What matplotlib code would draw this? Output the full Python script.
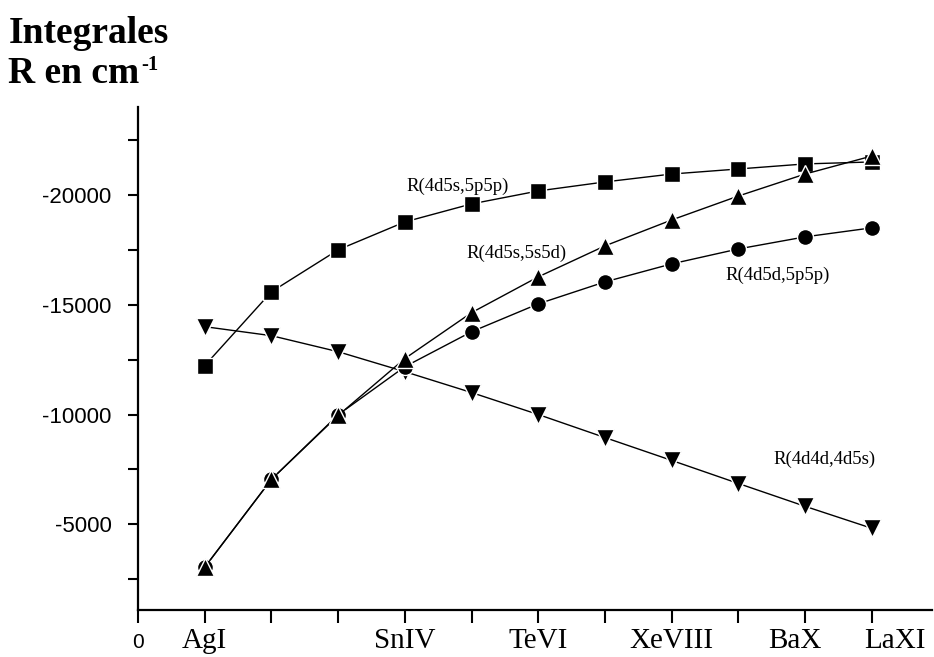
import matplotlib
matplotlib.use("Agg")
import matplotlib.pyplot as plt
from matplotlib.transforms import blended_transform_factory

# ions along the x axis (position 1..11)
x_pos = [1, 2, 3, 4, 5, 6, 7, 8, 9, 10, 11]
tick_names = ["0", "AgI", "", "", "SnIV", "", "TeVI", "", "XeVIII", "", "BaX", ""]

# R integrals in cm-1
r_4d5s_5p5p = [-12230, -15590, -17500, -18770, -19590, -20180,
               -20590, -20950, -21180, -21410, -21500]
r_4d5s_5s5d = [-3050, -7050, -9960, -12550, -14640, -16270,
               -17680, -18860, -19950, -20950, -21770]
r_4d5d_5p5p = [-3050, -7050, -9990, -12180, -13770, -15040,
               -16040, -16860, -17540, -18090, -18500]
r_4d4d_4d5s = [-14000, -13590, -12860, -11950, -11000, -10000,
               -8950, -7910, -6860, -5820, -4820]

fig = plt.figure(figsize=(9.34, 6.57), dpi=100)
ax = fig.add_axes([0.1478, 0.0715, 0.85, 0.7656])

line_kw = dict(color="black", lw=1.0, mec="white", mew=1.0, mfc="black")
ax.plot(x_pos, r_4d4d_4d5s, marker="v", ms=12.5, **line_kw)
ax.plot(x_pos, r_4d5s_5p5p, marker="s", ms=11.5, **line_kw)
ax.plot(x_pos, r_4d5d_5p5p, marker="o", ms=11.5, **line_kw)
ax.plot(x_pos, r_4d5s_5s5d, marker="^", ms=12.5, **line_kw)

ax.set_xlim(0, 11.9)
ax.set_ylim(-1100, -24000)

ax.spines["top"].set_visible(False)
ax.spines["right"].set_visible(False)
ax.spines["left"].set_linewidth(1.6)
ax.spines["bottom"].set_linewidth(1.6)

# x ticks: every ion, only some labelled
ax.set_xticks(range(12))
ax.set_xticklabels([""] * 12)
ax.tick_params(axis="x", length=9, width=1.5, direction="out")
trans = blended_transform_factory(ax.transData, ax.transAxes)
label_x = [0, 1, 2, 3, 4, 5, 6, 7, 8, 9, 9.85, 11]
for xi, name in zip(label_x, tick_names):
    if name == "":
        continue
    if name == "0":
        ax.text(xi, -0.045, name, transform=trans, ha="center", va="top",
                family="Liberation Sans", fontsize=15)
    else:
        ax.text(xi, -0.035, name, transform=trans, ha="center", va="top",
                family="Liberation Serif", fontsize=21)
ax.text(11.35, -0.035, "LaXI", transform=trans, ha="center", va="top",
        family="Liberation Serif", fontsize=21)

# y ticks every 2500, labels every 5000
yt = list(range(-22500, -2499, 2500))
ax.set_yticks(yt)
ax.set_yticklabels([str(v) if v % 5000 == 0 else "" for v in yt],
                   family="Liberation Sans", fontsize=16)
ax.tick_params(axis="y", length=7, width=1.5, direction="out", pad=12)

# curve labels
lab_kw = dict(family="Liberation Serif", fontsize=13.5, ha="left", va="center")
ax.text(4.02, -20400, "R(4d5s,5p5p)", **lab_kw)
ax.text(4.93, -17320, "R(4d5s,5s5d)", **lab_kw)
ax.text(8.80, -16320, "R(4d5d,5p5p)", **lab_kw)
ax.text(9.52, -7950, "R(4d4d,4d5s)", **lab_kw)

fig.text(0.009, 0.975, "Integrales", family="Liberation Serif",
         weight="bold", fontsize=27, ha="left", va="top")
unit = fig.text(0.009, 0.873, "R en cm", family="Liberation Serif",
                weight="bold", fontsize=27, ha="left", va="baseline")
# small raised exponent after "cm"
fig.canvas.draw()
bb = unit.get_window_extent()
fig.text((bb.x1 + 2) / fig.bbox.width, (bb.y1 - 14) / fig.bbox.height, "-1",
         family="Liberation Serif", weight="bold", fontsize=15,
         ha="left", va="baseline")

fig.savefig("out.png", dpi=100)
